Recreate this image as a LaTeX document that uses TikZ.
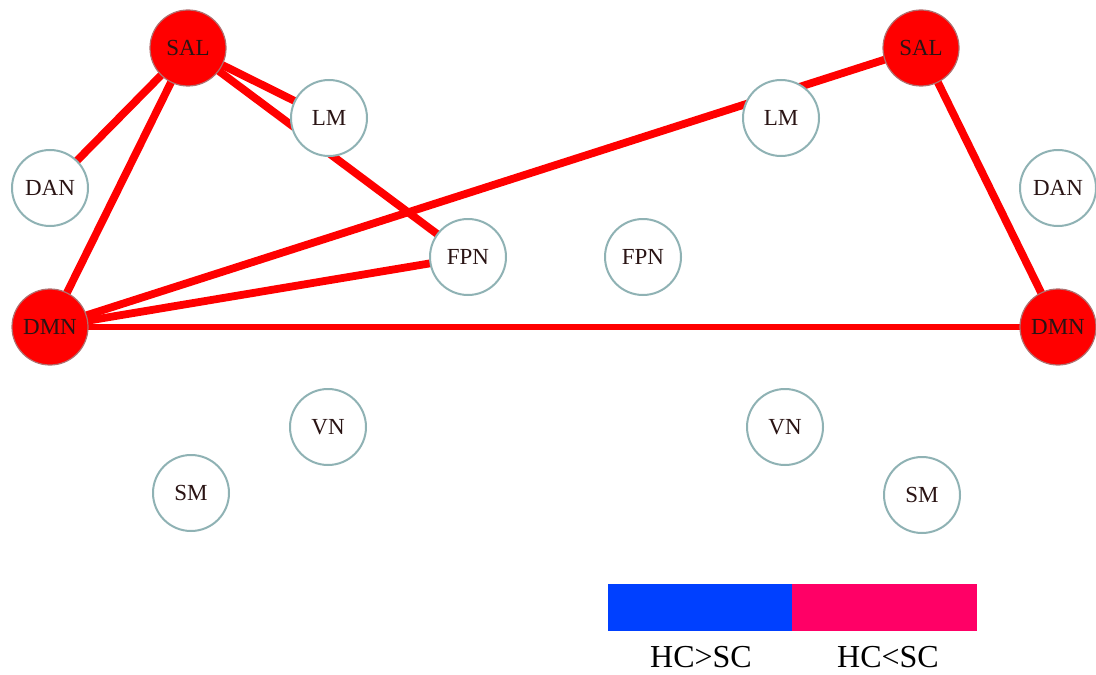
\documentclass[tikz,border=0pt]{standalone}
\usepackage{fontspec}
\setmainfont{Liberation Serif}
\usetikzlibrary{backgrounds}
\definecolor{netred}{HTML}{FF0000}
\definecolor{netrim}{HTML}{8FB2B4}
\definecolor{redrim}{HTML}{B07070}
\definecolor{legblue}{HTML}{0040FF}
\definecolor{legpink}{HTML}{FF0066}
\definecolor{labtext}{HTML}{2A1414}
\tikzset{
  net/.style={circle, draw=netrim, line width=1pt, fill=white, minimum size=38pt, inner sep=0pt, font=\fontsize{11.5}{13}\selectfont, text=labtext},
  hub/.style={net, draw=redrim, line width=0.6pt, fill=netred},
  link/.style={netred, line width=3.9pt},
}
\begin{document}
\begin{tikzpicture}[x=0.5pt, y=-0.5pt]
\useasboundingbox (0,0) rectangle (1096,674);

% left network
\node[hub] (salL) at (188,48) {SAL};
\node[net] (lmL) at (329,118) {LM};
\node[net] (danL) at (50,188) {DAN};
\node[net] (fpnL) at (468,257) {FPN};
\node[hub] (dmnL) at (50,327) {DMN};
\node[net] (vnL) at (328,427) {VN};
\node[net] (smL) at (191,493) {SM};

% right network
\node[hub] (salR) at (921,48) {SAL};
\node[net] (lmR) at (781,118) {LM};
\node[net] (danR) at (1058,188) {DAN};
\node[net] (fpnR) at (643,257) {FPN};
\node[hub] (dmnR) at (1058,327) {DMN};
\node[net] (vnR) at (785,427) {VN};
\node[net] (smR) at (922,495) {SM};

\begin{scope}[on background layer]
\foreach \a/\b in {salL/danL, salL/dmnL, salL/lmL, salL/fpnL, dmnL/fpnL, dmnL/salR, salR/dmnR} {
  \draw[link] (\a.center) -- (\b.center);
}
\draw[link, line width=3.2pt] (dmnL.center) -- (dmnR.center);
\end{scope}

% legend
\node[fill=legblue, minimum width=92pt, minimum height=23.5pt, inner sep=0pt, anchor=north west] (hcgt) at (608,584) {};
\node[fill=legpink, minimum width=92.5pt, minimum height=23.5pt, inner sep=0pt, anchor=north west] (hclt) at (792,584) {};
\node[font=\fontsize{16}{18}\selectfont, anchor=base, inner sep=0pt] (hcgtlab) at (701,667) {HC>SC};
\node[font=\fontsize{16}{18}\selectfont, anchor=base, inner sep=0pt] (hcltlab) at (888,667) {HC<SC};
\end{tikzpicture}
\end{document}
